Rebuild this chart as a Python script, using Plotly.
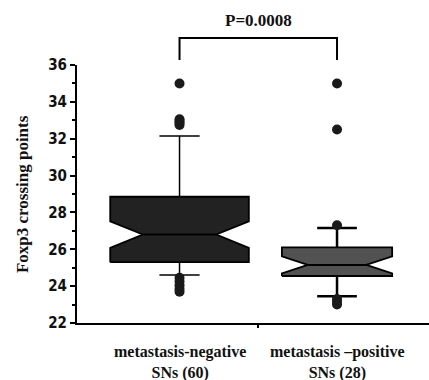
import plotly.graph_objects as go

# Data
groups = ["metastasis-negative<br>SNs (60)", "metastasis \u2013positive<br>SNs (28)"]
n_samples = [60, 28]
q1 = [25.3, 24.55]
median = [26.8, 25.15]
q3 = [28.85, 26.1]
lowerfence = [24.6, 23.45]
upperfence = [32.15, 27.15]
outliers_neg = [35.0, 33.05, 32.95, 32.85, 32.75, 24.45, 24.25, 24.05, 23.85, 23.7]
outliers_pos = [35.0, 32.5, 27.3, 23.3, 23.15, 23.0]
fills = ["#222222", "#525252"]
box_widths = [0.88, 0.70]
whisker_widths = [0.29, 0.36]
whisker_lw = [1.5, 2.5]
notch_width = 0.47
p_text = "P=0.0008"

fig = go.Figure()
for i in range(2):
    c = i
    h = box_widths[i] / 2
    hm = h * (1 - notch_width)
    ns = 1.57 * (q3[i] - q1[i]) / n_samples[i] ** 0.5
    ln, un = median[i] - ns, median[i] + ns
    hw = h * whisker_widths[i]
    # whiskers + caps
    fig.add_trace(go.Scatter(
        x=[c, c, None, c - hw, c + hw, None, c, c, None, c - hw, c + hw],
        y=[q3[i], upperfence[i], None, upperfence[i], upperfence[i], None,
           q1[i], lowerfence[i], None, lowerfence[i], lowerfence[i]],
        mode="lines", line=dict(color="#000000", width=whisker_lw[i]),
        showlegend=False, hoverinfo="skip"))
    # notched box
    fig.add_trace(go.Scatter(
        x=[c - h, c - h, c - hm, c - h, c - h, c + h, c + h, c + hm, c + h, c + h, c - h],
        y=[q1[i], ln, median[i], un, q3[i], q3[i], un, median[i], ln, q1[i], q1[i]],
        mode="lines", fill="toself", fillcolor=fills[i],
        line=dict(color="#000000", width=1.8),
        showlegend=False, hoverinfo="skip"))
    # median line
    fig.add_trace(go.Scatter(
        x=[c - hm, c + hm], y=[median[i], median[i]], mode="lines",
        line=dict(color="#000000", width=2), showlegend=False, hoverinfo="skip"))

for i, pts in enumerate([outliers_neg, outliers_pos]):
    fig.add_trace(go.Scatter(
        x=[i] * len(pts), y=pts, mode="markers",
        marker=dict(color="#1a1a1a", size=10, line=dict(width=0)),
        showlegend=False, hoverinfo="skip", cliponaxis=False,
    ))

tick_font = dict(family="Liberation Sans Narrow, DejaVu Sans Condensed, Arial Narrow", size=15, color="#111111", weight="bold")
serif = dict(family="Liberation Serif, Times New Roman, serif", color="#111111", weight="bold")

fig.update_layout(
    width=429, height=380,
    margin=dict(l=77, r=0, t=65, b=57),
    paper_bgcolor="white", plot_bgcolor="white",
    xaxis=dict(range=[-0.651, 1.584], showgrid=False, zeroline=False,
               showline=True, linecolor="#000000", linewidth=2,
               tickvals=[0.5], ticktext=[""], ticks="outside", ticklen=3,
               tickwidth=2, tickcolor="#000000"),
    yaxis=dict(range=[22, 36], showgrid=False, zeroline=False,
               showline=True, linecolor="#000000", linewidth=2,
               tickvals=[22, 24, 26, 28, 30, 32, 34, 36], ticks="outside",
               ticklen=5, tickwidth=2, tickcolor="#000000", tickfont=tick_font,
               minor=dict(dtick=1, ticks="outside", ticklen=3, tickwidth=2, tickcolor="#000000")),
)

# category labels
for i, g in enumerate(groups):
    fig.add_annotation(x=i, y=0, xref="x", yref="paper", yshift=-18, yanchor="top",
                       xanchor="center", text=g, showarrow=False,
                       font=dict(size=16, **serif))

# y axis title
fig.add_annotation(x=-0.156, y=0.5, xref="paper", yref="paper", textangle=-90,
                   xanchor="center", yanchor="middle",
                   text="Foxp3 crossing points", showarrow=False,
                   font=dict(size=17, **serif))

# significance bracket
fig.add_shape(type="path", xref="x", yref="paper",
              path="M 0,1.019 L 0,1.105 L 1,1.105 L 1,1.019",
              line=dict(color="#000000", width=2))
fig.add_annotation(x=0.5, y=1.105, xref="x", yref="paper", yshift=6, yanchor="bottom",
                   xanchor="center", text=p_text, showarrow=False,
                   font=dict(size=17, **serif))

fig.write_html("out.html")
